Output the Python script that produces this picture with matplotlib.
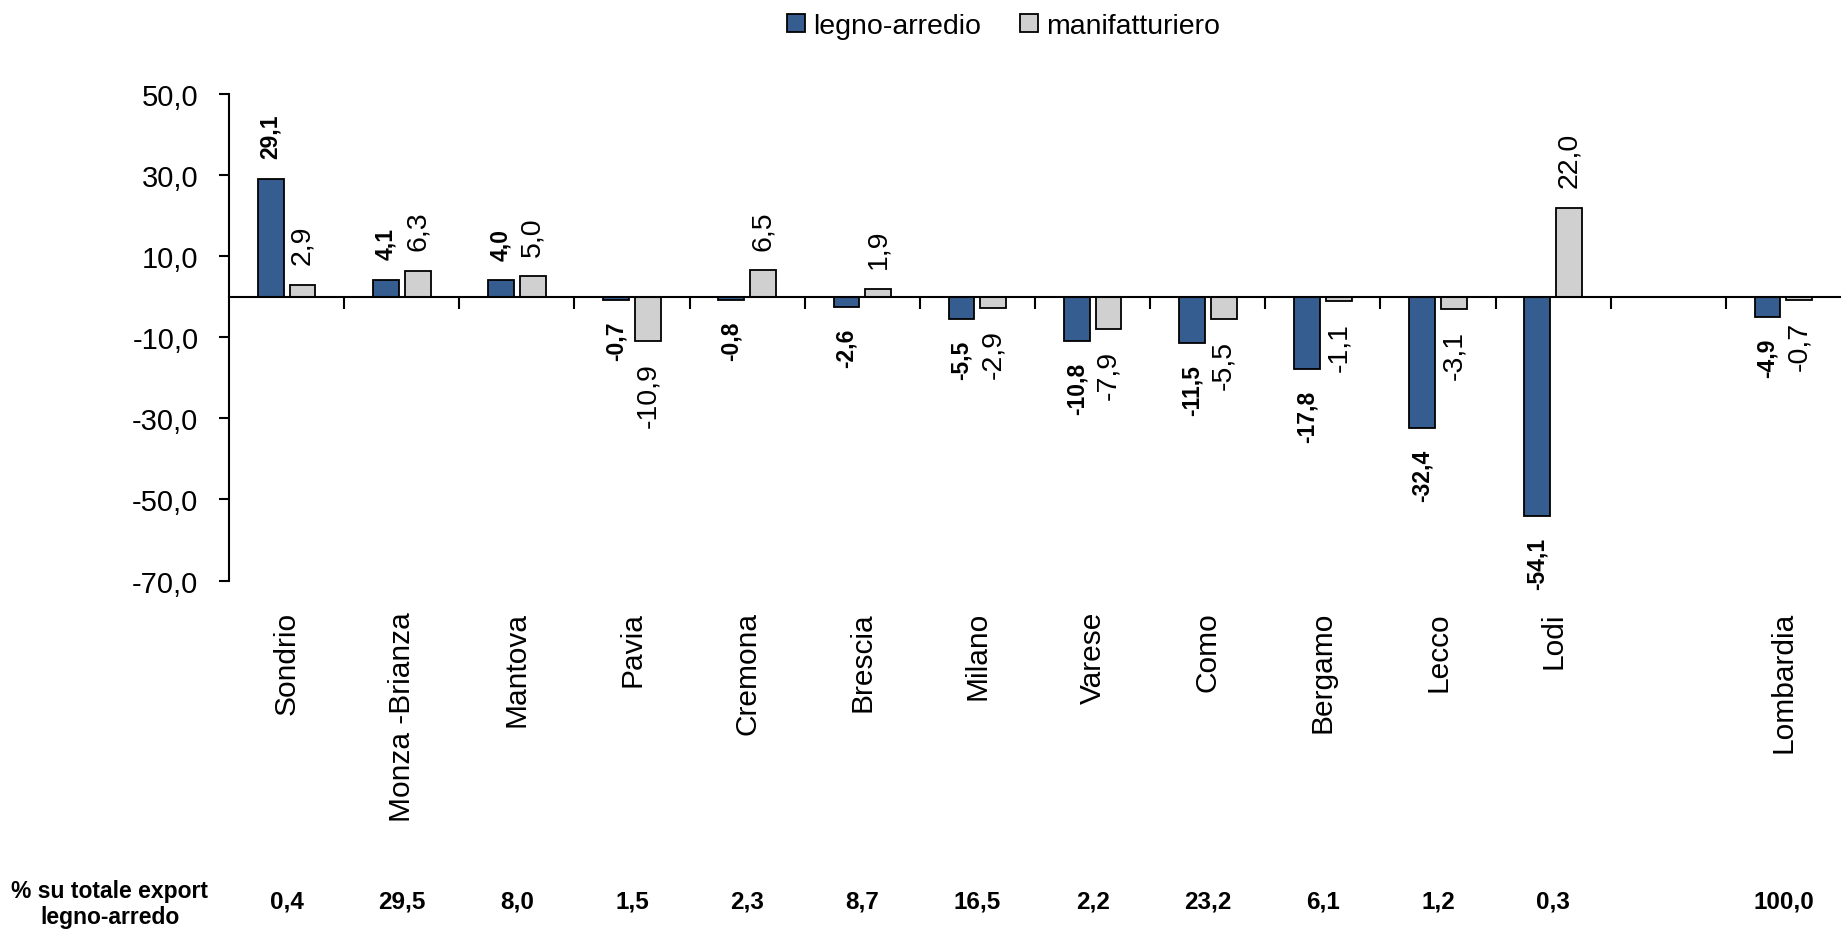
import matplotlib.pyplot as plt
import matplotlib.transforms as mtransforms
import numpy as np

plt.rcParams['font.family'] = ['Liberation Sans', 'DejaVu Sans']

# empty string = blank slot between Lodi and Lombardia
provinces = ["Sondrio", "Monza -Brianza", "Mantova", "Pavia", "Cremona", "Brescia",
             "Milano", "Varese", "Como", "Bergamo", "Lecco", "Lodi", "", "Lombardia"]
legno = [29.1, 4.1, 4.0, -0.7, -0.8, -2.6, -5.5, -10.8, -11.5, -17.8, -32.4, -54.1, None, -4.9]
manif = [2.9, 6.3, 5.0, -10.9, 6.5, 1.9, -2.9, -7.9, -5.5, -1.1, -3.1, 22.0, None, -0.7]
share = [0.4, 29.5, 8.0, 1.5, 2.3, 8.7, 16.5, 2.2, 23.2, 6.1, 1.2, 0.3, None, 100.0]
yticks = [50, 30, 10, -10, -30, -50, -70]

blue = '#355D8F'
grey = '#D0D0D0'


def fmt(v):
    return f"{v:.1f}".replace(".", ",")


fig = plt.figure(figsize=(18.41, 9.37), dpi=100)
ax = fig.add_axes([0.1244, 0.3794, 0.8756, 0.5192])

pos = np.arange(len(provinces))
w = 0.224
off = 0.138

idx = [i for i in range(len(provinces)) if legno[i] is not None]
xs = pos[idx]
lv = [legno[i] for i in idx]
mv = [manif[i] for i in idx]

ax.bar(xs - off, lv, w, color=blue, edgecolor='black', linewidth=1.3, label='legno-arredio', zorder=2)
ax.bar(xs + off, mv, w, color=grey, edgecolor='black', linewidth=1.3, label='manifatturiero', zorder=2)

for x, v in zip(xs, lv):
    ax.annotate(fmt(v), (x - off, v), xytext=(0, 15 if v >= 0 else -15), textcoords='offset points',
                rotation=90, ha='center', va='bottom' if v >= 0 else 'top',
                fontsize=16.5, fontweight='bold')
for x, v in zip(xs, mv):
    ax.annotate(fmt(v), (x + off, v), xytext=(0, 15 if v >= 0 else -15), textcoords='offset points',
                rotation=90, ha='center', va='bottom' if v >= 0 else 'top',
                fontsize=20.5)

ax.set_xlim(-0.5, len(provinces) - 0.5)
ax.set_ylim(-70, 50)
ax.set_yticks(yticks)
ax.set_yticklabels([fmt(t) for t in yticks], fontsize=21)
ax.tick_params(axis='y', length=7, width=1.5, pad=15)

for s in ['top', 'right']:
    ax.spines[s].set_visible(False)
ax.spines['left'].set_linewidth(1.5)
ax.spines['bottom'].set_linewidth(1.5)
ax.spines['bottom'].set_position(('data', 0))

ax.set_xticks(pos[:-1] + 0.5)
ax.set_xticklabels([])
ax.tick_params(axis='x', direction='out', length=8.5, width=1.5)

# category names under the plot area
trans = mtransforms.blended_transform_factory(ax.transData, ax.transAxes)
for x, name in zip(pos, provinces):
    ax.annotate(name, (x, 0), xycoords=trans, xytext=(0, -22), textcoords='offset points',
                rotation=90, ha='center', va='top', fontsize=21.5,
                annotation_clip=False)

# share of export row
ftrans = mtransforms.blended_transform_factory(ax.transData, fig.transFigure)
for x, s in zip(pos, share):
    if s is None:
        continue
    ax.text(x, 0.037, fmt(s), transform=ftrans, ha='center', va='center',
            fontsize=17.5, fontweight='bold')
fig.text(0.0597, 0.0347, "% su totale export\nlegno-arredo", ha='center', va='center',
         multialignment='center', linespacing=1.14, fontsize=16.5, fontweight='bold')

ax.legend(loc='center', bbox_to_anchor=(0.545, 0.9715), bbox_transform=fig.transFigure,
          ncol=2, frameon=False, prop={'size': 20.5}, handlelength=0.65, handleheight=0.6,
          handletextpad=0.28, columnspacing=1.36, borderpad=0, borderaxespad=0)

fig.savefig('out.png', dpi=100)
